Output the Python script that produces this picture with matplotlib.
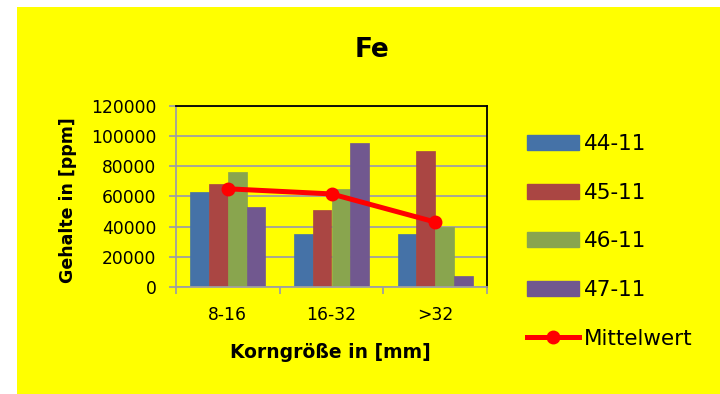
import numpy as np
import matplotlib
matplotlib.use("Agg")
import matplotlib.pyplot as plt
from matplotlib.patches import Rectangle, Patch
from matplotlib.lines import Line2D

plt.rcParams['font.family'] = ['DejaVu Sans']

categories = ["8-16", "16-32", ">32"]
series_names = ["44-11", "45-11", "46-11", "47-11"]
values_44 = [63000, 35000, 35000]
values_45 = [68000, 51000, 90000]
values_46 = [76000, 65000, 40000]
values_47 = [53000, 95500, 7000]
mittelwert = [65000, 61600, 43000]
y_ticks = [0, 20000, 40000, 60000, 80000, 100000, 120000]

colors = ["#4572A7", "#AA4643", "#89A54E", "#71588F"]
series = [values_44, values_45, values_46, values_47]

fig = plt.figure(figsize=(7.2, 3.94), dpi=100)
fig.patch.set_facecolor("white")
# yellow chart area
fig.patches.append(Rectangle((17 / 720, 0), 1 - 17 / 720, 1 - 7 / 394,
                             transform=fig.transFigure, facecolor="#FFFF00",
                             edgecolor="none", zorder=-10))

ax = fig.add_axes([176 / 720, 1 - 287 / 394, 311 / 720, 181.3 / 394])
ax.set_facecolor("#FFFF00")

x = np.arange(len(categories))
bw = 0.181
for i, (vals, c, name) in enumerate(zip(series, colors, series_names)):
    ax.bar(x + (i - 1.5) * bw, vals, width=bw, color=c, edgecolor=c,
           linewidth=0.5, zorder=2, label=name)

ax.plot(x, mittelwert, color="#FF0000", linewidth=3.6, marker="o",
        markersize=9, zorder=3, label="Mittelwert")

ax.set_xlim(-0.5, 2.5)
ax.set_ylim(0, 120000)
ax.set_yticks(y_ticks)
ax.set_yticklabels([str(v) for v in y_ticks], fontsize=12.3)
ax.yaxis.grid(True, color="#A0A0A0", linewidth=1.3, zorder=1)
ax.set_axisbelow(True)

ax.set_xticks(x)
ax.set_xticklabels(categories, fontsize=12.3)
ax.set_xticks([-0.5, 0.5, 1.5, 2.5], minor=True)
ax.tick_params(axis="x", which="major", length=0, pad=14)
ax.tick_params(axis="x", which="minor", length=5, color="#A0A0A0", width=1.3,
               direction="out")
ax.tick_params(axis="y", length=5, color="#A0A0A0", width=1.3, pad=9,
               direction="out")

for s in ["left", "bottom"]:
    ax.spines[s].set_color("#A0A0A0")
    ax.spines[s].set_linewidth(1.3)
for s in ["top", "right"]:
    ax.spines[s].set_color("black")
    ax.spines[s].set_linewidth(1.3)

fig.text(372 / 720, 1 - 50 / 394, "Fe", ha="center", va="center",
         fontsize=19, fontweight="bold")
fig.text(68 / 720, 1 - 200 / 394, "Gehalte in [ppm]", ha="center",
         va="center", rotation=90, fontsize=12.5, fontweight="bold")
fig.text(330 / 720, 1 - 353 / 394, "Korngröße in [mm]", ha="center",
         va="center", fontsize=13.5, fontweight="bold")

handles = [Patch(facecolor=c, edgecolor=c) for c in colors]
handles.append(Line2D([0], [0], color="#FF0000", linewidth=3.6, marker="o",
                      markersize=9))
labels = series_names + ["Mittelwert"]
fig.legend(handles, labels, loc="upper left",
           bbox_to_anchor=(527 / 720, 1 - 134 / 394), frameon=False,
           fontsize=15.5, borderpad=0, borderaxespad=0, handlelength=2.4,
           handleheight=0.7, handletextpad=0.25, labelspacing=1.33)

fig.savefig("out.png", dpi=100, facecolor=fig.get_facecolor())
